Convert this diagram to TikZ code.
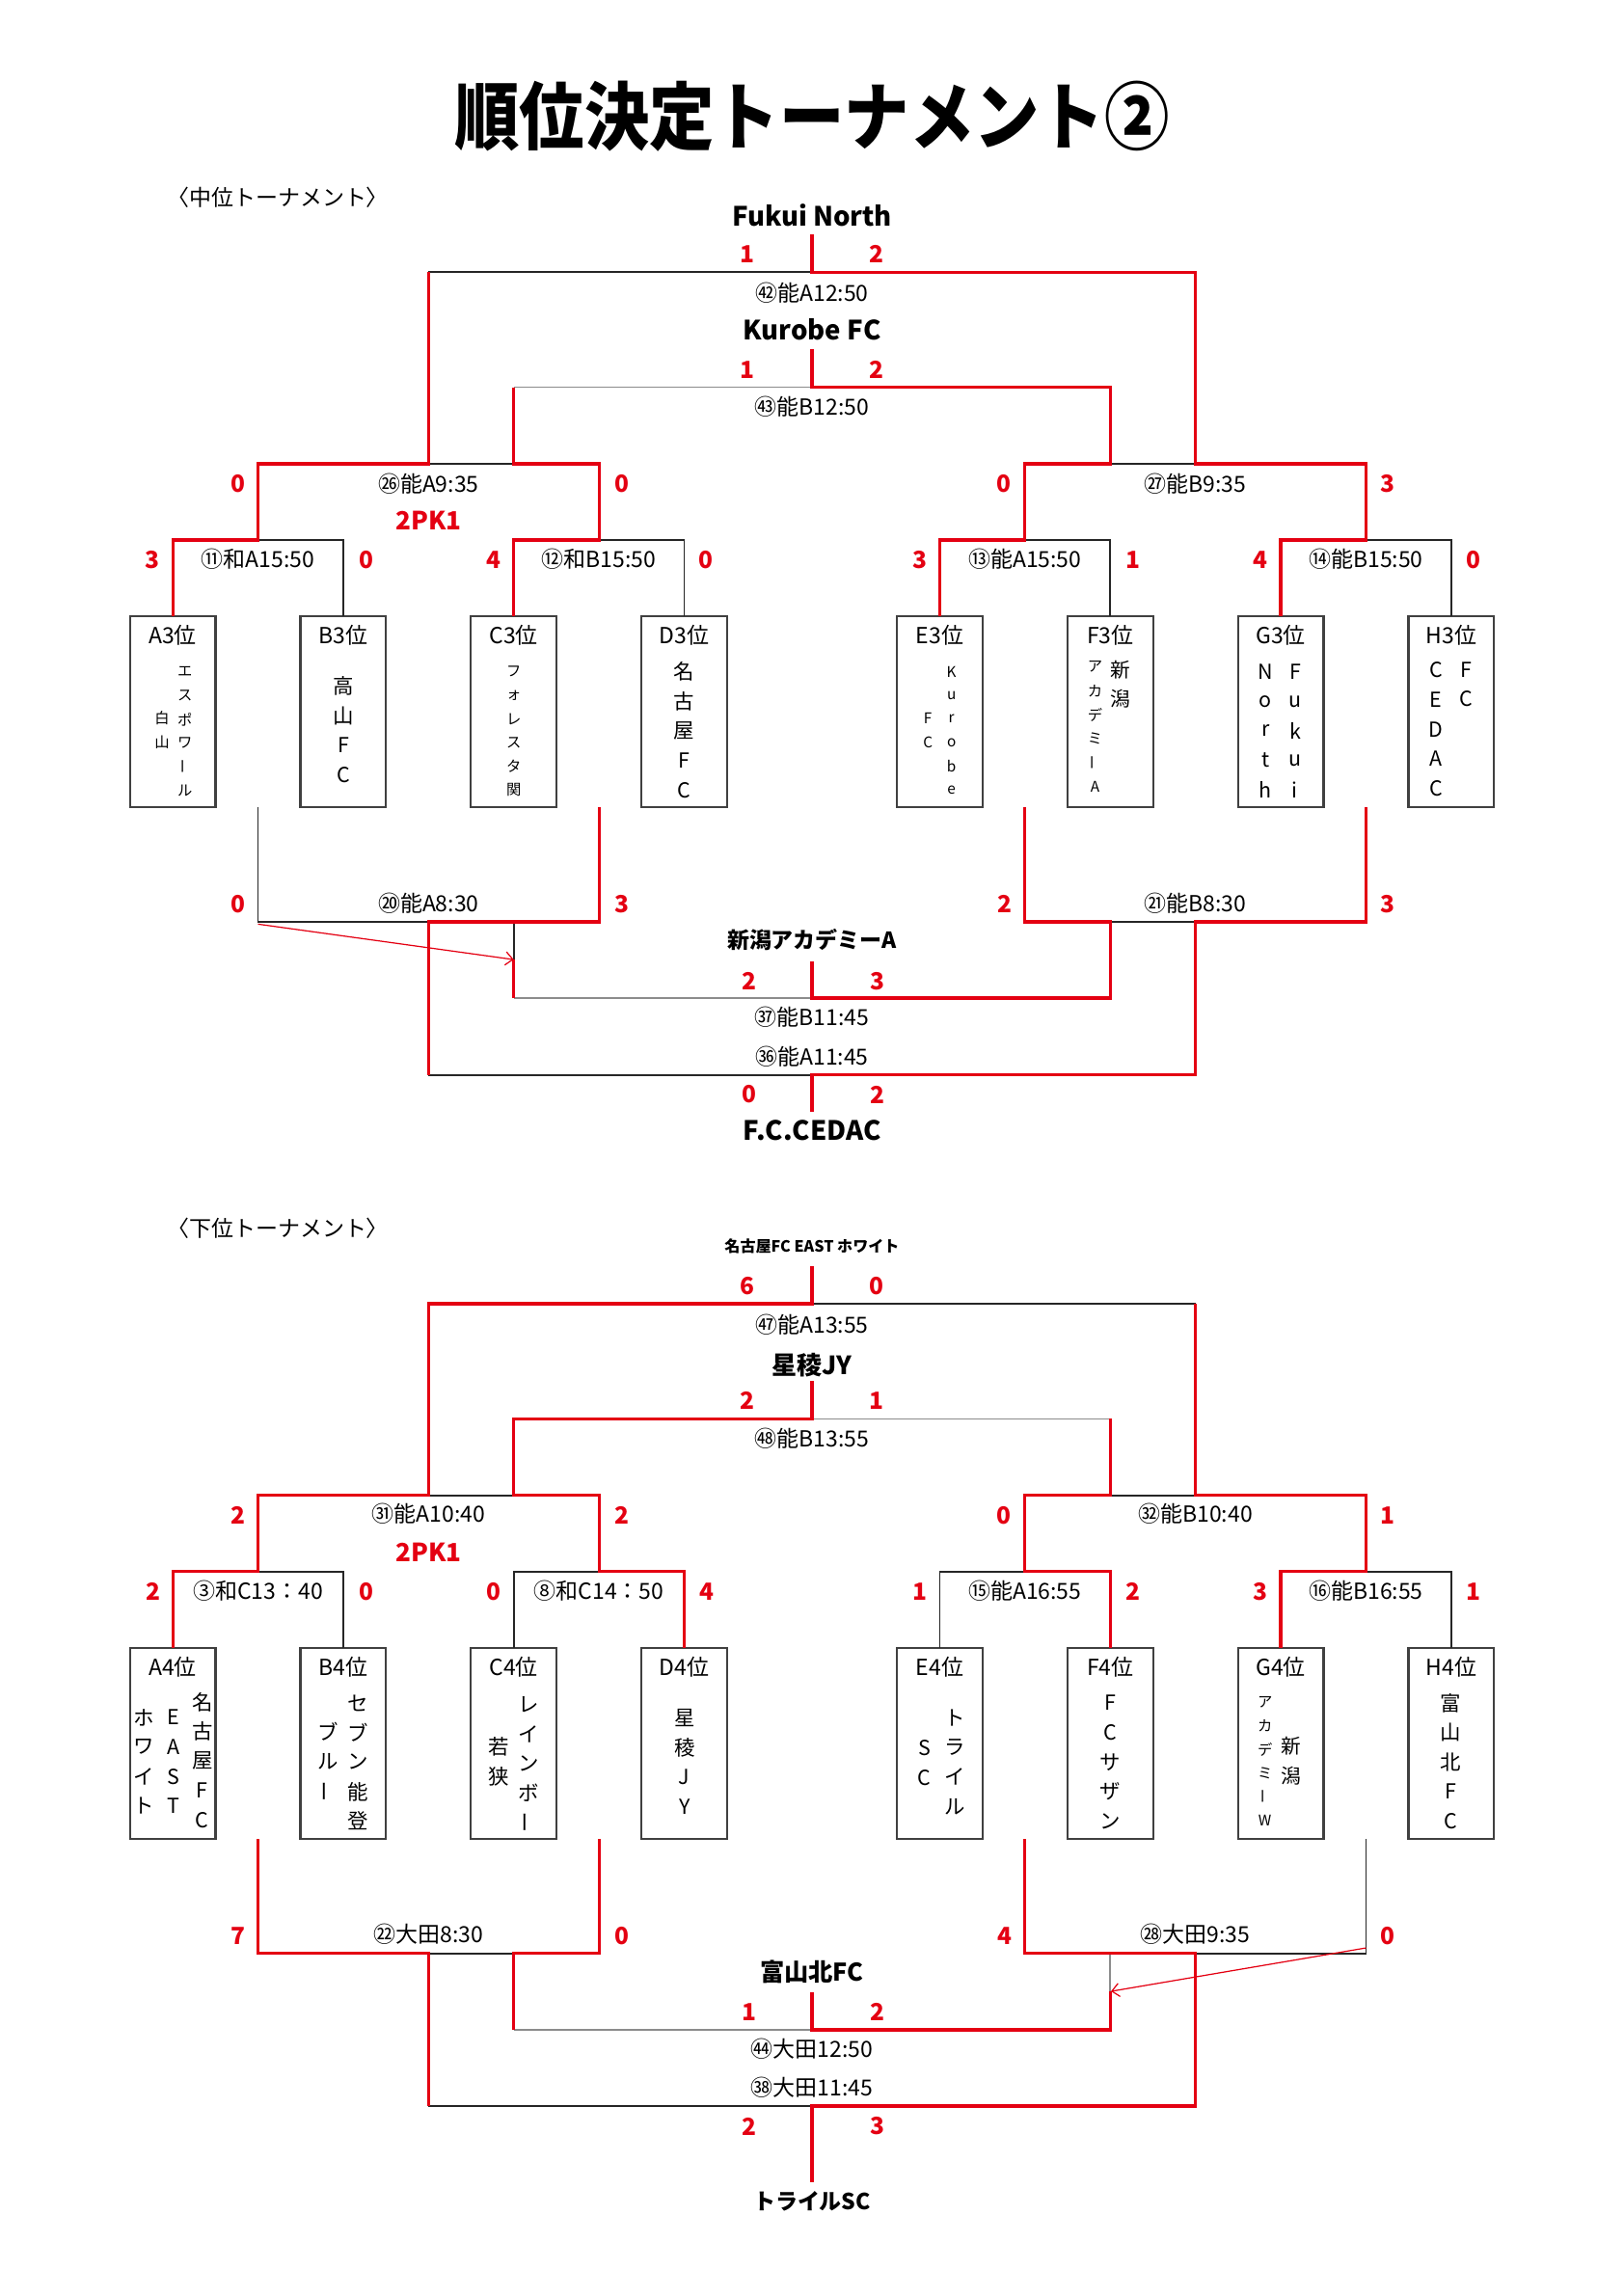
\documentclass[tikz,border=0pt]{standalone}
\usepackage{fontspec}
\setmainfont{Noto Sans CJK JP}
\newfontfamily\titlefont{Noto Sans CJK JP}[FakeStretch=0.88]
\usepackage{graphicx}
\usetikzlibrary{arrows.meta}
\definecolor{tred}{RGB}{228,0,18}
\newcommand\tvbar{\rotatebox{90}{ー}}
\newcommand\tvcol[6]{\foreach \ch [count=\i from 0] in {#6}{\node[inner sep=0pt,font=\fontsize{#5}{#5}\selectfont] (#1-\i) at (#2,{#3+\i*#4}) {\ch};}}
\begin{document}
\begin{tikzpicture}[x=1pt,y=-1pt,
  win/.style={draw=tred,line width=2.1pt},
  lose/.style={draw=black!85,line width=1.1pt},
  pale/.style={draw=black!45,line width=1pt},
  teambox/.style={draw=black!75,line width=1.4pt,minimum width=58pt,minimum height=129.4pt,inner sep=0pt,outer sep=0pt,anchor=north},
  sc/.style={text=tred,font=\bfseries\fontsize{16}{16}\selectfont,inner sep=0pt},
  lbl/.style={font=\fontsize{15}{15}\selectfont,inner sep=0pt},
  team/.style={font=\bfseries\fontsize{18}{18}\selectfont,inner sep=0pt},
  sec/.style={font=\fontsize{15}{15}\selectfont,inner sep=0pt,anchor=west},
  pk/.style={text=tred,font=\bfseries\fontsize{17}{17}\selectfont,inner sep=0pt},
  arr/.style={draw=tred,line width=0.8pt,-{Straight Barb[length=5pt,width=9pt]}}]
\useasboundingbox[fill=white] (0,0) rectangle (1100,1555.3);

\node[font=\titlefont\bfseries\fontsize{50}{50}\selectfont,inner sep=0pt] (title) at (550,79) {順位決定トーナメント②};

% ================= upper tournament =================
\foreach \n/\x in {A3/117,B3/232.5,C3/348,D3/463.5,E3/636.5,F3/752,G3/867.5,H3/983}{
  \node[teambox] (\n) at (\x,417.6) {};
  \node[lbl] (\n-h) at (\x,430) {{\n}位};}

\tvcol{A3r}{125.3}{455}{16.1}{10}{エ,ス,ポ,ワ,\tvbar,ル}
\tvcol{A3l}{109.7}{486.6}{16.1}{10}{白,山}
\tvcol{B3c}{232.5}{464.9}{20}{14}{高,山,F,C}
\tvcol{C3c}{348}{455.1}{16}{10}{フ,ォ,レ,ス,タ,関}
\tvcol{D3c}{463.5}{455.1}{20}{14}{名,古,屋,F,C}
\tvcol{E3r}{644.5}{455.1}{16}{10}{K,u,r,o,b,e}
\tvcol{E3l}{628.5}{486.6}{16}{10}{F,C}
\tvcol{F3r}{759.2}{454}{19.6}{13.5}{新,潟}
\tvcol{F3l}{741.8}{451.8}{16.2}{10}{ア,カ,デ,ミ,\tvbar,A}
\tvcol{G3r}{877.2}{455.1}{20}{14}{F,u,k,u,i}
\tvcol{G3l}{857.2}{455.1}{20}{14}{N,o,r,t,h}
\tvcol{H3r}{993.2}{454}{19.6}{14}{F,C}
\tvcol{H3l}{972.8}{454}{20}{14}{C,E,D,A,C}

% losing / neutral lines
\draw[lose] (290.25,184.4) -- (550,184.4);
\draw[pale] (348,262.4) -- (550,262.4);
\draw[lose] (290.25,314.2) -- (348,314.2);
\draw[lose] (752,314.2) -- (809.75,314.2);
\draw[lose] (174.75,365.8) -| (B3.north);
\draw[lose] (405.75,365.8) -| (D3.north);
\draw[lose] (694.25,365.8) -| (F3.north);
\draw[lose] (925.25,365.8) -| (H3.north);
\draw[lose] (174.75,547) |- (290.25,624.5);
\draw[lose] (348,624.5) -- (348,650);
\draw[lose] (752,624.5) -- (809.75,624.5);
\draw[pale] (348,676.1) -- (550,676.1);
\draw[lose] (290.25,728.1) -- (550,728.1);
% winning lines
\draw[win] (550,159) |- (809.75,184.4) -- (809.75,314.2) -- (925.25,314.2) -- (925.25,365.8) -- (867.5,365.8) -- (G3.north);
\draw[win] (290.25,184.4) -- (290.25,314.2) -- (174.75,314.2) -- (174.75,365.8) -- (117,365.8) -- (A3.north);
\draw[win] (550,236.7) |- (752,262.4) -- (752,314.2) -- (694.25,314.2) -- (694.25,365.8) -- (636.5,365.8) -- (E3.north);
\draw[win] (348,262.4) -- (348,314.2) -- (405.75,314.2) -- (405.75,365.8) -- (348,365.8) -- (C3.north);
\draw[win] (405.75,547) -- (405.75,624.5) -- (290.25,624.5) -- (290.25,728.1);
\draw[win] (348,650) -- (348,676.1);
\draw[win] (694.25,547) -- (694.25,624.5) -- (752,624.5) -- (752,676.1) -- (550,676.1) -- (550,651);
\draw[win] (925.25,547) -- (925.25,624.5) -- (809.75,624.5) -- (809.75,728.1) -- (550,728.1) -- (550,753.4);
\coordinate (arrU0) at (174.75,626);
\coordinate (arrU1) at (348,650);
\draw[arr] (arrU0) -- (arrU1);

\node[sec] (sec1) at (113,133.9) {〈中位トーナメント〉};
\node[team] (fukui) at (550,145.9) {Fukui North};
\node[sc] (s42a) at (506.5,172) {1};
\node[sc] (s42b) at (594,172) {2};
\node[lbl] (m42) at (550,198.6) {㊷能A12:50};
\node[team] (kurobe) at (550,223.2) {Kurobe FC};
\node[sc] (s43a) at (506.5,250.4) {1};
\node[sc] (s43b) at (594,250.4) {2};
\node[lbl] (m43) at (550,275.4) {㊸能B12:50};
\node[sc] (s26a) at (161,327.7) {0};
\node[sc] (s26b) at (421,327.7) {0};
\node[lbl] (m26) at (290.25,327.7) {㉖能A9:35};
\node[pk] (pk26) at (290.5,352.3) {2PK1};
\node[sc] (s27a) at (680.2,327.7) {0};
\node[sc] (s27b) at (940.2,327.7) {3};
\node[lbl] (m27) at (809.75,327.7) {㉗能B9:35};
\node[lbl] (m11) at (174.75,378.9) {⑪和A15:50};
\node[lbl] (m12) at (405.75,378.9) {⑫和B15:50};
\node[lbl] (m13) at (694.25,378.9) {⑬能A15:50};
\node[lbl] (m14) at (925.25,378.9) {⑭能B15:50};
\node[sc] (s11a) at (103,379.5) {3};
\node[sc] (s11b) at (248,379.5) {0};
\node[sc] (s12a) at (334.3,379.5) {4};
\node[sc] (s12b) at (478,379.5) {0};
\node[sc] (s13a) at (622.9,379.5) {3};
\node[sc] (s13b) at (767.2,379.5) {1};
\node[sc] (s14a) at (853.5,379.5) {4};
\node[sc] (s14b) at (997.8,379.5) {0};
\node[sc] (s20a) at (161,612.3) {0};
\node[sc] (s20b) at (421,612.3) {3};
\node[lbl] (m20) at (290.25,611.8) {⑳能A8:30};
\node[sc] (s21a) at (680.5,612.3) {2};
\node[sc] (s21b) at (940.2,612.3) {3};
\node[lbl] (m21) at (809.75,611.8) {㉑能B8:30};
\node[font=\bfseries\fontsize{15}{15}\selectfont,inner sep=0pt] (niigata) at (550,636.9) {新潟アカデミーA};
\node[sc] (s37a) at (507.2,664.5) {2};
\node[sc] (s37b) at (594.2,664.5) {3};
\node[lbl] (m37) at (550,689.3) {㊲能B11:45};
\node[lbl] (m36) at (550,715.5) {㊱能A11:45};
\node[sc] (s36a) at (507.2,741.4) {0};
\node[sc] (s36b) at (594.2,741.4) {2};
\node[team] (cedac) at (550,766) {F.C.CEDAC};

% ================= lower tournament =================
\begin{scope}[shift={(0,698.7)}]
\foreach \n/\x in {A4/117,B4/232.5,C4/348,D4/463.5,E4/636.5,F4/752,G4/867.5,H4/983}{
  \node[teambox] (\n) at (\x,417.6) {};
  \node[lbl] (\n-h) at (\x,430.3) {{\n}位};}

\tvcol{A4r}{137}{454.2}{20}{14}{名,古,屋,F,C}
\tvcol{A4m}{117.6}{464.7}{20}{14}{E,A,S,T}
\tvcol{A4l}{97.7}{464.7}{20}{14}{ホ,ワ,イ,ト}
\tvcol{B4r}{242.6}{454.9}{20}{14}{セ,ブ,ン,能,登}
\tvcol{B4l}{222}{474.5}{20}{14}{ブ,ル,\tvbar}
\tvcol{C4r}{358}{455.8}{20}{14}{レ,イ,ン,ボ,\tvbar}
\tvcol{C4l}{337.6}{484.7}{20}{14}{若,狭}
\tvcol{D4c}{463.6}{465.1}{20}{14}{星,稜,J,Y}
\tvcol{E4r}{646.9}{465.1}{20}{14}{ト,ラ,イ,ル}
\tvcol{E4l}{626.2}{485.4}{20}{14}{S,C}
\tvcol{F4c}{751.9}{454.9}{20}{14}{F,C,サ,ザ,ン}
\tvcol{G4r}{874.5}{484.3}{20}{13.5}{新,潟}
\tvcol{G4l}{856.8}{454.2}{16}{10}{ア,カ,デ,ミ,\tvbar,W}
\tvcol{H4c}{982.4}{454.9}{20}{14}{富,山,北,F,C}

\draw[lose] (550,184.4) -- (809.75,184.4);
\draw[pale] (550,262.4) -- (752,262.4);
\draw[lose] (290.25,314.2) -- (348,314.2);
\draw[lose] (752,314.2) -- (809.75,314.2);
\draw[lose] (174.75,365.8) -| (B4.north);
\draw[lose] (C4.north) |- (405.75,365.8);
\draw[lose] (E4.north) |- (694.25,365.8);
\draw[lose] (925.25,365.8) -| (H4.north);
\draw[lose] (290.25,624.5) -- (348,624.5);
\draw[lose] (925.25,547) |- (809.75,624.5);
\draw[pale] (752,624.5) -- (752,650.2);
\draw[pale] (348,676.3) -- (550,676.3);
\draw[lose] (290.25,727.9) -- (550,727.9);

\draw[win] (550,158.8) |- (290.25,184.4) -- (290.25,314.2) -- (174.75,314.2) -- (174.75,365.8) -- (117,365.8) -- (A4.north);
\draw[win] (809.75,184.4) -- (809.75,314.2) -- (925.25,314.2) -- (925.25,365.8) -- (867.5,365.8) -- (G4.north);
\draw[win] (550,236.9) |- (348,262.4) -- (348,314.2) -- (405.75,314.2) -- (405.75,365.8) -- (463.5,365.8) -- (D4.north);
\draw[win] (752,262.4) -- (752,314.2) -- (694.25,314.2) -- (694.25,365.8) -- (752,365.8) -- (F4.north);
\draw[win] (174.75,547) -- (174.75,624.5) -- (290.25,624.5) -- (290.25,727.9);
\draw[win] (405.75,547) -- (405.75,624.5) -- (348,624.5) -- (348,676.3);
\draw[win] (694.25,547) -- (694.25,624.5) -- (809.75,624.5) -- (809.75,727.9) -- (550,727.9) -- (550,779.7);
\draw[win] (752,650.2) -- (752,676.3) -- (550,676.3) -- (550,650.6);
\coordinate (arrL0) at (925.25,620.8);
\coordinate (arrL1) at (752.5,650.2);
\draw[arr] (arrL0) -- (arrL1);

\node[sec] (sec2) at (113,133.1) {〈下位トーナメント〉};
\node[font=\bfseries\fontsize{10.5}{10.5}\selectfont,inner sep=0pt] (nagoya) at (550,145.7) {名古屋FC EAST ホワイト};
\node[sc] (s47a) at (506.5,172.2) {6};
\node[sc] (s47b) at (594,172.2) {0};
\node[lbl] (m47) at (550,198.4) {㊼能A13:55};
\node[font=\bfseries\fontsize{17}{17}\selectfont,inner sep=0pt] (seiryo) at (550,226) {星稜JY};
\node[sc] (s48a) at (506.5,250) {2};
\node[sc] (s48b) at (594,250) {1};
\node[lbl] (m48) at (550,275.7) {㊽能B13:55};
\node[sc] (s31a) at (161,327.9) {2};
\node[sc] (s31b) at (421,327.9) {2};
\node[lbl] (m31) at (290.25,326.8) {㉛能A10:40};
\node[pk] (pk31) at (290.5,353) {2PK1};
\node[sc] (s32a) at (680.2,327.9) {0};
\node[sc] (s32b) at (940.2,327.9) {1};
\node[lbl] (m32) at (809.75,326.8) {㉜能B10:40};
\node[lbl] (m3) at (174.75,378.9) {③和C13：40};
\node[lbl] (m8) at (405.75,378.9) {⑧和C14：50};
\node[lbl] (m15) at (694.25,378.9) {⑮能A16:55};
\node[lbl] (m16) at (925.25,378.9) {⑯能B16:55};
\node[sc] (s3a) at (103.6,379.5) {2};
\node[sc] (s3b) at (248,379.5) {0};
\node[sc] (s8a) at (334.3,379.5) {0};
\node[sc] (s8b) at (478.6,379.5) {4};
\node[sc] (s15a) at (622.9,379.5) {1};
\node[sc] (s15b) at (767.2,379.5) {2};
\node[sc] (s16a) at (853.5,379.5) {3};
\node[sc] (s16b) at (997.8,379.5) {1};
\node[sc] (s22a) at (161,612.5) {7};
\node[sc] (s22b) at (421,612.5) {0};
\node[lbl] (m22) at (290.25,611.8) {㉒大田8:30};
\node[sc] (s28a) at (680.5,612.5) {4};
\node[sc] (s28b) at (940.2,612.5) {0};
\node[lbl] (m28) at (809.75,611.8) {㉘大田9:35};
\node[font=\bfseries\fontsize{16.5}{16.5}\selectfont,inner sep=0pt] (toyama) at (550,637.1) {富山北FC};
\node[sc] (s44a) at (507.2,664.3) {1};
\node[sc] (s44b) at (594.2,664.3) {2};
\node[lbl] (m44) at (550,689.4) {㊹大田12:50};
\node[lbl] (m38) at (550,715.1) {㊳大田11:45};
\node[sc] (s38a) at (507.2,741.6) {2};
\node[sc] (s38b) at (594.2,741.6) {3};
\node[font=\bfseries\fontsize{15}{15}\selectfont,inner sep=0pt] (trial) at (550,792.3) {トライルSC};
\end{scope}
\end{tikzpicture}
\end{document}
